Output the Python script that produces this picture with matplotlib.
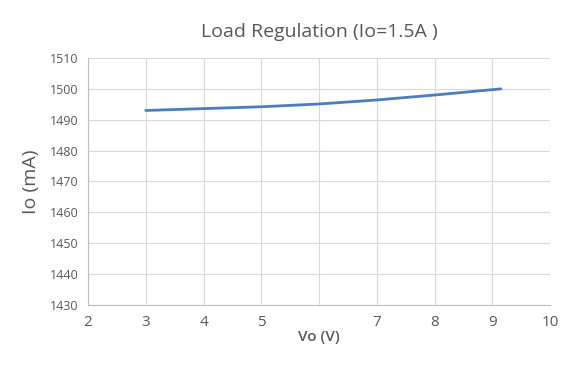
import matplotlib
matplotlib.use('Agg')
import matplotlib.pyplot as plt

plt.rcParams['font.family'] = ['Open Sans', 'DejaVu Sans']

vo = [3.0, 4.0, 5.0, 6.0, 7.0, 8.0, 9.15]
io = [1493.0, 1493.6, 1494.2, 1495.1, 1496.4, 1498.0, 1500.0]
x_ticks = [2, 3, 4, 5, 6, 7, 8, 9, 10]
x_labels = ['2', '3', '4', '5', '', '7', '8', '9', '10']
y_ticks = list(range(1430, 1511, 10))

GRID = '#d9d9d9'
TXT = '#595959'

fig = plt.figure(figsize=(5.76, 3.67), dpi=100)
ax = fig.add_axes([0.1528, 0.169, 0.8021, 0.673])
ax.plot(vo, io, color='#4a7ebb', lw=2.0, solid_capstyle='round')

ax.set_xlim(2, 10)
ax.set_ylim(1430, 1510)
ax.set_xticks(x_ticks)
ax.set_xticklabels(x_labels, fontsize=11, color=TXT)
ax.set_yticks(y_ticks)
ax.set_yticklabels([str(v) for v in y_ticks], fontsize=9, color=TXT)
ax.tick_params(length=0, pad=7)
ax.grid(True, color=GRID, lw=0.8)
for s in ['top', 'right']:
    ax.spines[s].set_visible(False)
for s in ['left', 'bottom']:
    ax.spines[s].set_color('#bfbfbf')
    ax.spines[s].set_linewidth(0.8)

ax.set_title('Load Regulation (Io=1.5A )', fontsize=14, color=TXT, pad=15)
ax.set_xlabel('Vo (V)', fontsize=11, color=TXT, fontweight='semibold', labelpad=0)
ax.set_ylabel('Io (mA)', fontsize=14, color=TXT, labelpad=7)

fig.savefig('out.png', dpi=100)
